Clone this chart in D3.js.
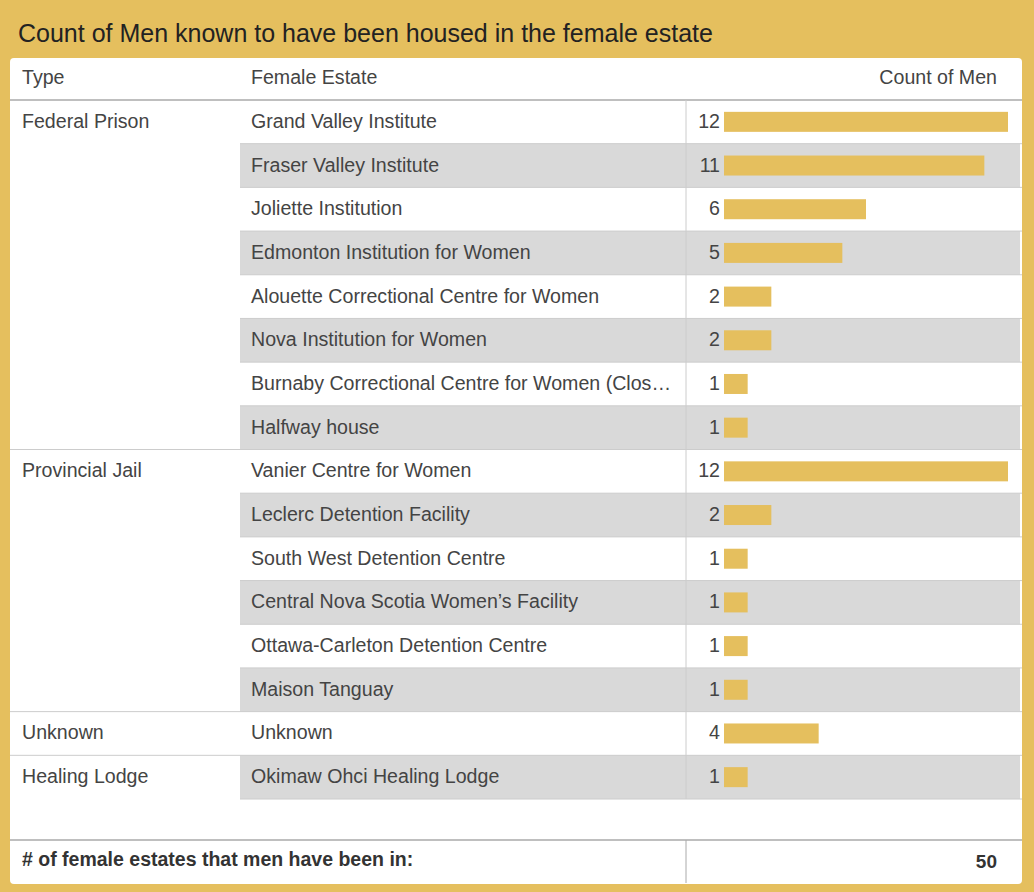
<!DOCTYPE html>
<meta charset="utf-8">
<script src="https://d3js.org/d3.v7.min.js"></script>
<style>
body { margin:0; background:#e5bf5e; }
text { font-family: "Liberation Sans", Arial, sans-serif; }
</style>
<body></body>
<script>
var types = ["Federal Prison","Federal Prison","Federal Prison","Federal Prison","Federal Prison","Federal Prison","Federal Prison","Federal Prison",
  "Provincial Jail","Provincial Jail","Provincial Jail","Provincial Jail","Provincial Jail","Provincial Jail","Unknown","Healing Lodge"];
var estates = ["Grand Valley Institute","Fraser Valley Institute","Joliette Institution","Edmonton Institution for Women",
  "Alouette Correctional Centre for Women","Nova Institution for Women","Burnaby Correctional Centre for Women (Clos\u2026","Halfway house",
  "Vanier Centre for Women","Leclerc Detention Facility","South West Detention Centre","Central Nova Scotia Women\u2019s Facility",
  "Ottawa-Carleton Detention Centre","Maison Tanguay","Unknown","Okimaw Ohci Healing Lodge"];
var counts = [12,11,6,5,2,2,1,1,12,2,1,1,1,1,4,1];
var total = 50;

var width = 1034, height = 892;
var fs = 19.6;
var svg = d3.select("body").append("svg").attr("width", width).attr("height", height);

svg.append("rect").attr("width", width).attr("height", height).attr("fill", "#e5bf5e");
svg.append("text").attr("x", 18).attr("y", 42).attr("font-size", 25).attr("fill", "#222")
  .text("Count of Men known to have been housed in the female estate");

svg.append("rect").attr("x", 10).attr("y", 58).attr("width", 1012).attr("height", 826)
  .attr("rx", 4).attr("fill", "#fff");

var y = d3.scaleBand().domain(d3.range(estates.length)).range([100, 799]);
var x = d3.scaleLinear().domain([0, 12]).range([724, 1008]);

// header
svg.append("text").attr("x", 22).attr("y", 84).attr("font-size", fs).attr("fill", "#444").text("Type");
svg.append("text").attr("x", 251).attr("y", 84).attr("font-size", fs).attr("fill", "#444").text("Female Estate");
svg.append("text").attr("x", 997).attr("y", 84).attr("font-size", fs).attr("fill", "#444").attr("text-anchor", "end").text("Count of Men");
svg.append("line").attr("x1", 10).attr("x2", 1022).attr("y1", 100).attr("y2", 100).attr("stroke", "#aaa").attr("stroke-width", 1.5);

// stripes on odd rows
svg.selectAll(".stripe").data(d3.range(estates.length).filter(function(i) { return i % 2 == 1; }))
  .enter().append("rect").attr("class", "stripe")
  .attr("x", 240).attr("width", 780)
  .attr("y", function(i) { return y(i); }).attr("height", y.bandwidth())
  .attr("fill", "#d9d9d9");

svg.selectAll(".sep").data(d3.range(1, estates.length)).enter().append("line")
  .attr("x1", function(i) { return types[i] != types[i - 1] ? 10 : 240; }).attr("x2", 1022)
  .attr("y1", function(i) { return y(i); }).attr("y2", function(i) { return y(i); })
  .attr("stroke", "#ccc");
svg.append("line").attr("x1", 686).attr("x2", 686).attr("y1", 100).attr("y2", 799).attr("stroke", "#ccc");
svg.append("line").attr("x1", 240).attr("x2", 1022).attr("y1", 799).attr("y2", 799).attr("stroke", "#ccc");

svg.selectAll(".type").data(d3.range(estates.length).filter(function(i) { return i == 0 || types[i] != types[i - 1]; }))
  .enter().append("text").attr("x", 22).attr("y", function(i) { return y(i) + y.bandwidth() / 2 + 6; })
  .attr("font-size", fs).attr("fill", "#444").text(function(i) { return types[i]; });

svg.selectAll(".est").data(estates).enter().append("text").attr("x", 251)
  .attr("y", function(d, i) { return y(i) + y.bandwidth() / 2 + 6; })
  .attr("font-size", fs).attr("fill", "#444").text(function(d) { return d; });

svg.selectAll(".bar").data(counts).enter().append("rect")
  .attr("x", x(0)).attr("width", function(d) { return x(d) - x(0); })
  .attr("y", function(d, i) { return y(i) + y.bandwidth() / 2 - 10; }).attr("height", 20)
  .attr("fill", "#e5bf5e");
svg.selectAll(".val").data(counts).enter().append("text").attr("x", 720).attr("text-anchor", "end")
  .attr("y", function(d, i) { return y(i) + y.bandwidth() / 2 + 6; })
  .attr("font-size", fs).attr("fill", "#444").text(function(d) { return d; });

// footer
svg.append("line").attr("x1", 10).attr("x2", 1022).attr("y1", 840).attr("y2", 840).attr("stroke", "#aaa").attr("stroke-width", 1.5);
svg.append("line").attr("x1", 686).attr("x2", 686).attr("y1", 840).attr("y2", 883).attr("stroke", "#aaa");
svg.append("text").attr("x", 22).attr("y", 866).attr("font-size", 19.5).attr("font-weight", "bold").attr("fill", "#333")
  .text("# of female estates that men have been in:");
svg.append("text").attr("x", 997).attr("y", 868).attr("font-size", 19).attr("font-weight", "bold").attr("fill", "#333")
  .attr("text-anchor", "end").text(total);
</script>
